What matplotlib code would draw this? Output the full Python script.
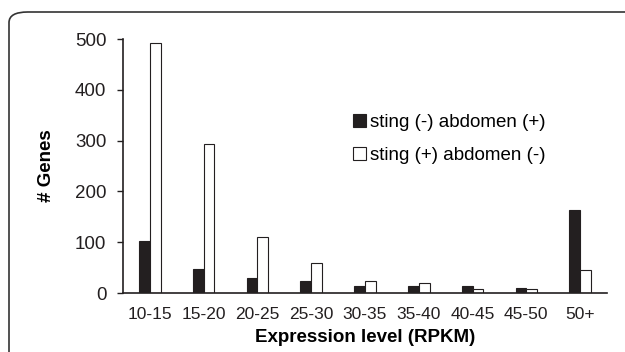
import numpy as np
import matplotlib
matplotlib.use('Agg')
import matplotlib.pyplot as plt
from matplotlib.patches import FancyBboxPatch, Patch

plt.rcParams['font.family'] = ['Liberation Sans', 'DejaVu Sans']

# 데이터
categories = ['10-15', '15-20', '20-25', '25-30', '30-35', '35-40', '40-45', '45-50', '50+']
sting_neg_abd_pos = [102, 47, 30, 23, 14, 14, 14, 10, 164]
sting_pos_abd_neg = [493, 293, 111, 59, 24, 20, 8, 8, 45]
labels = ['sting (-) abdomen (+)', 'sting (+) abdomen (-)']

fig = plt.figure(figsize=(6.25, 3.52), dpi=100)
fig.set_facecolor('white')

# 바깥 둥근 테두리
frame = FancyBboxPatch((9 / 625, -0.2), 1.2, 1 - 12 / 352 + 0.2,
                       boxstyle='round,pad=0,rounding_size=0.03',
                       transform=fig.transFigure, fill=False,
                       edgecolor='#333333', linewidth=1.2, clip_on=False)
fig.patches.append(frame)

ax = fig.add_axes([123 / 625, 1 - 293 / 352, (607 - 123) / 625, (293 - 39) / 352])
x = np.arange(len(categories))
w = 0.2
dark = '#231f20'
ax.bar(x - w / 2, sting_neg_abd_pos, w, color=dark, edgecolor=dark, linewidth=0.8)
ax.bar(x + w / 2, sting_pos_abd_neg, w, color='white', edgecolor=dark, linewidth=0.8)

ax.set_xlim(-0.5, len(categories) - 0.5)
ax.set_ylim(0, 500)
ax.set_yticks([0, 100, 200, 300, 400, 500])
ax.set_xticks(x)
ax.set_xticklabels(categories)
ax.tick_params(axis='x', length=0, pad=10, labelsize=12.5, colors='#231f20')
ax.tick_params(axis='y', length=4, width=1, pad=8, labelsize=13.5, colors='#231f20', direction='out')

for s in ['top', 'right']:
    ax.spines[s].set_visible(False)
for s in ['left', 'bottom']:
    ax.spines[s].set_linewidth(1.2)
    ax.spines[s].set_color('#231f20')

ax.set_ylabel('# Genes', fontsize=13.5, fontweight='bold', labelpad=14)
ax.set_xlabel('Expression level (RPKM)', fontsize=13.5, fontweight='bold', labelpad=5)

handles = [Patch(facecolor=dark, edgecolor=dark, linewidth=0.8),
           Patch(facecolor='white', edgecolor=dark, linewidth=0.8)]
ax.legend(handles, labels, loc='upper left', bbox_to_anchor=(0.46, 0.735), frameon=False,
          fontsize=13.5, handlelength=0.7, handleheight=0.7, handletextpad=0.2,
          labelspacing=0.85, borderaxespad=0)

fig.savefig('out.png', dpi=100)
plt.close()
